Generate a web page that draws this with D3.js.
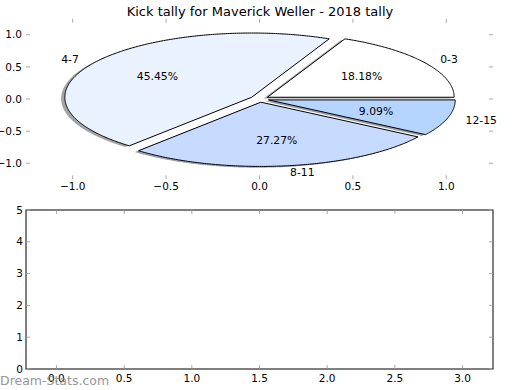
<!DOCTYPE html>
<html><head><meta charset="utf-8">
<script src="https://cdn.jsdelivr.net/npm/d3@7"></script>
<style>body{margin:0;background:#fff} text{font-family:"DejaVu Sans",sans-serif}</style>
</head><body><svg id="c" width="520" height="390"></svg>
<script>
const categories = ["0-3", "4-7", "8-11", "12-15"];
const values = [2, 5, 3, 1];
const explode = [0.05, 0.05, 0.05, 0.05];
const sliceColors = ["#ffffff", "#eaf2ff", "#c6dbff", "#b5d5ff"];
const chartTitle = "Kick tally for Maverick Weller - 2018 tally";
const pieTicks = [-1, -0.5, 0, 0.5, 1];
const lowerXTicks = [0, 0.5, 1, 1.5, 2, 2.5, 3];
const lowerYTicks = [0, 1, 2, 3, 4, 5];
const watermark = "Dream-Stats.com";

const svg = d3.select("#c");
svg.append("rect").attr("width", 520).attr("height", 390).attr("fill", "#fff");
const tickCol = "#aaaaaa";
const fmt1 = d3.format(".1f");
const tickFont = 10.5, pieFont = 10.8;

// ---------- Pie axes ----------
const L = 26, R = 493;
const pT = 18.7, pB = 179.3;
const px = d3.scaleLinear().domain([-1.25, 1.25]).range([L, R]);
const py = d3.scaleLinear().domain([-1.25, 1.25]).range([pB, pT]);

const total = d3.sum(values);
const arcs = d3.pie().sort(null).startAngle(0).endAngle(2 * Math.PI)(values);
const line = d3.line();

function wedgePath(a0, a1, cx, cy) {
  const n = Math.max(8, Math.ceil((a1 - a0) / 0.01));
  const pts = [[px(cx), py(cy)]];
  for (let i = 0; i <= n; i++) {
    const t = a0 + (a1 - a0) * i / n;
    pts.push([px(cx + Math.cos(t)), py(cy + Math.sin(t))]);
  }
  return line(pts) + "Z";
}

const slices = arcs.map((a, i) => {
  const mid = (a.startAngle + a.endAngle) / 2;
  return {
    a, i, mid,
    cx: explode[i] * Math.cos(mid),
    cy: explode[i] * Math.sin(mid)
  };
});

const gPie = svg.append("g");
// shadows
gPie.selectAll("path.shadow").data(slices).join("path")
  .attr("class", "shadow")
  .attr("d", s => wedgePath(s.a.startAngle, s.a.endAngle, s.cx - 0.02, s.cy - 0.02))
  .attr("fill", s => {
    const c = d3.rgb(sliceColors[s.i]);
    return d3.rgb(c.r * 0.3, c.g * 0.3, c.b * 0.3);
  })
  .attr("fill-opacity", 0.5);
// wedges
gPie.selectAll("path.wedge").data(slices).join("path")
  .attr("class", "wedge")
  .attr("d", s => wedgePath(s.a.startAngle, s.a.endAngle, s.cx, s.cy))
  .attr("fill", s => sliceColors[s.i])
  .attr("stroke", "#000").attr("stroke-width", 1).attr("stroke-linejoin", "miter");

// labels
gPie.selectAll("text.lab").data(slices).join("text")
  .attr("class", "lab")
  .attr("x", s => px(s.cx + 1.1 * Math.cos(s.mid)))
  .attr("y", s => py(s.cy + 1.1 * Math.sin(s.mid)))
  .attr("dy", "0.35em")
  .attr("text-anchor", s => Math.cos(s.mid) > 0 ? "start" : "end")
  .attr("font-size", pieFont).attr("fill", "#000")
  .text(s => categories[s.i]);
gPie.selectAll("text.pct").data(slices).join("text")
  .attr("class", "pct")
  .attr("x", s => px(s.cx + 0.6 * Math.cos(s.mid)))
  .attr("y", s => py(s.cy + 0.6 * Math.sin(s.mid)))
  .attr("dy", "0.35em")
  .attr("text-anchor", "middle")
  .attr("font-size", pieFont).attr("fill", "#000")
  .text(s => d3.format(".2f")(values[s.i] / total * 100) + "%");

// pie axes ticks (frame off)
const gT = svg.append("g");
pieTicks.forEach(v => {
  gT.append("line").attr("x1", px(v)).attr("x2", px(v)).attr("y1", pT).attr("y2", pT + 4).attr("stroke", tickCol);
  gT.append("line").attr("x1", px(v)).attr("x2", px(v)).attr("y1", pB).attr("y2", pB - 4).attr("stroke", tickCol);
  gT.append("line").attr("y1", py(v)).attr("y2", py(v)).attr("x1", L).attr("x2", L + 4).attr("stroke", tickCol);
  gT.append("line").attr("y1", py(v)).attr("y2", py(v)).attr("x1", R).attr("x2", R - 4).attr("stroke", tickCol);
  gT.append("text").attr("x", px(v)).attr("y", 190).attr("text-anchor", "middle")
    .attr("font-size", tickFont).text(fmt1(v));
  gT.append("text").attr("x", L - 4).attr("y", py(v)).attr("dy", "0.35em").attr("text-anchor", "end")
    .attr("font-size", tickFont).text(fmt1(v));
});

svg.append("text").attr("x", 260).attr("y", 15.5).attr("text-anchor", "middle")
  .attr("font-size", 13).text(chartTitle);

// ---------- Lower empty axes ----------
const bT = 210, bB = 369;
const bx = d3.scaleLinear().domain([-0.225, 3.225]).range([L, R]);
const by = d3.scaleLinear().domain([0, 5]).range([bB, bT]);
const gB = svg.append("g");
gB.append("rect").attr("x", L).attr("y", bT).attr("width", R - L).attr("height", bB - bT)
  .attr("fill", "none").attr("stroke", "#000").attr("stroke-width", 1);
lowerXTicks.forEach(v => {
  gB.append("line").attr("x1", bx(v)).attr("x2", bx(v)).attr("y1", bT + 0.5).attr("y2", bT + 4).attr("stroke", tickCol);
  gB.append("line").attr("x1", bx(v)).attr("x2", bx(v)).attr("y1", bB - 0.5).attr("y2", bB - 4).attr("stroke", tickCol);
  gB.append("text").attr("x", bx(v)).attr("y", 382).attr("text-anchor", "middle")
    .attr("font-size", tickFont).text(fmt1(v));
});
lowerYTicks.forEach(v => {
  gB.append("line").attr("y1", by(v)).attr("y2", by(v)).attr("x1", L + 0.5).attr("x2", L + 4).attr("stroke", tickCol);
  gB.append("line").attr("y1", by(v)).attr("y2", by(v)).attr("x1", R - 0.5).attr("x2", R - 4).attr("stroke", tickCol);
  gB.append("text").attr("x", L - 3).attr("y", by(v)).attr("dy", "0.35em").attr("text-anchor", "end")
    .attr("font-size", tickFont).text(d3.format("d")(v));
});

svg.append("text").attr("x", 0).attr("y", 385).attr("font-size", 12.5)
  .attr("fill", "#8c8c8c").attr("opacity", 0.9).text(watermark);
</script></body></html>
